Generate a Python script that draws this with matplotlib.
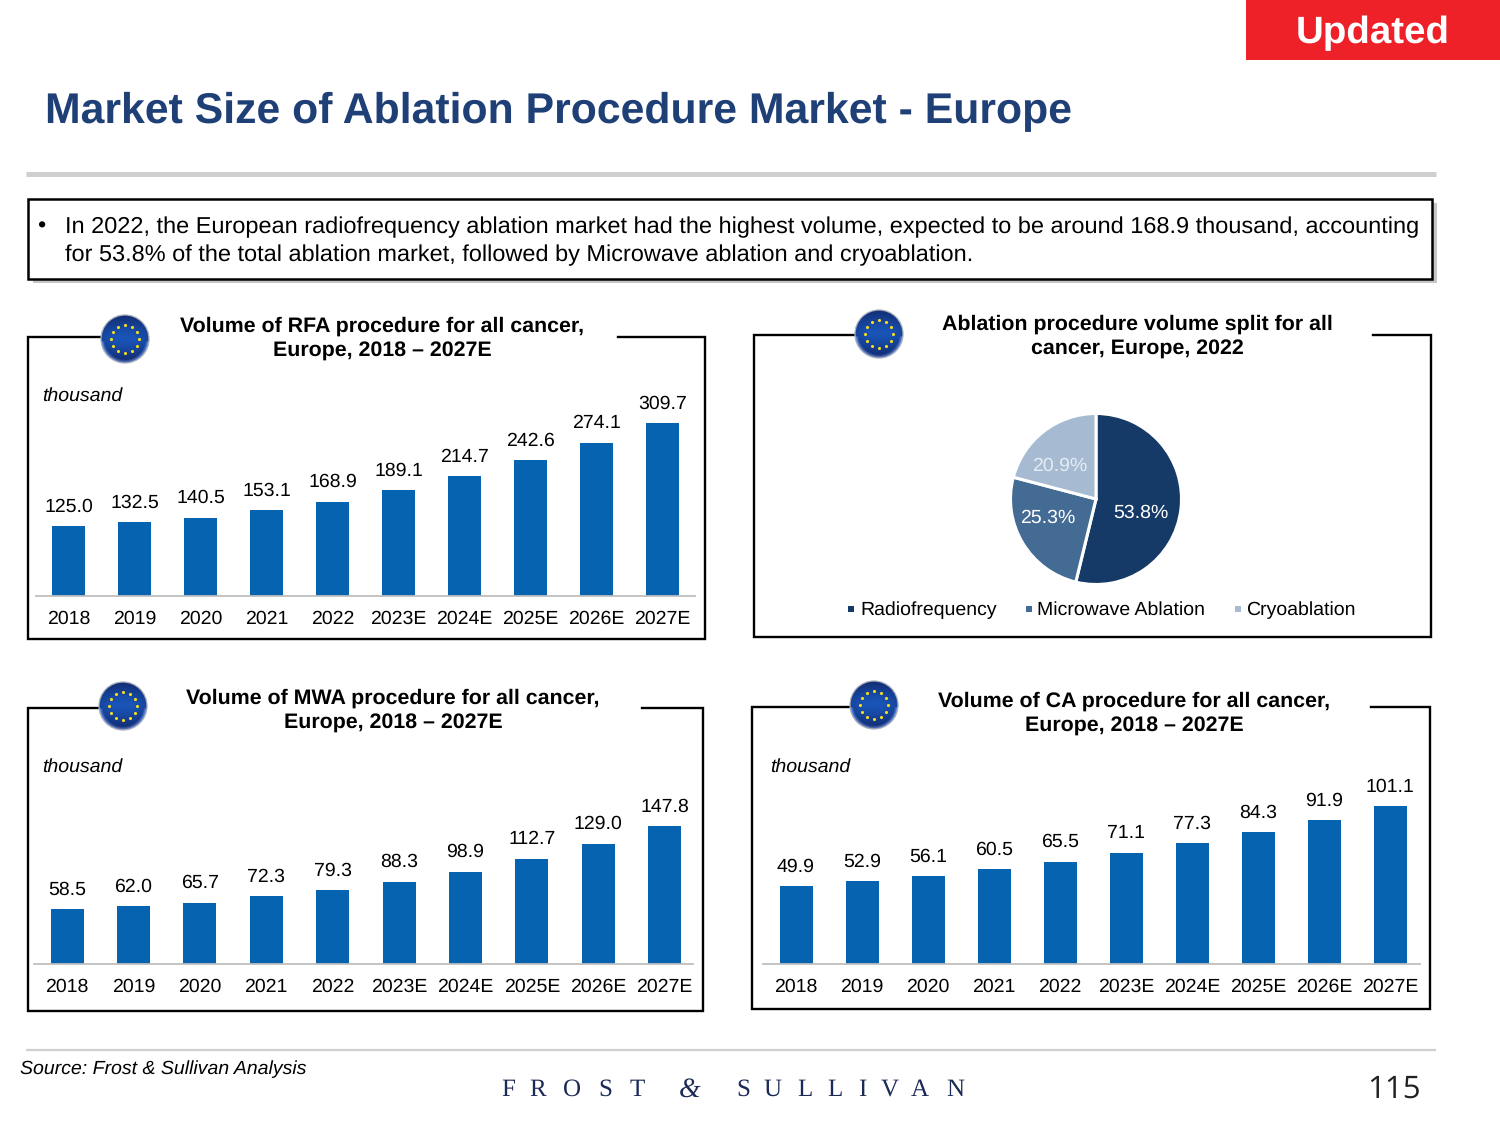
import numpy as np
import matplotlib
matplotlib.use('Agg')
import matplotlib.pyplot as plt
from matplotlib.patches import Rectangle, Circle

plt.rcParams['font.family'] = ['Liberation Sans', 'DejaVu Sans']
plt.rcParams['text.hinting'] = 'no_hinting'
plt.rcParams['text.hinting_factor'] = 8

years = ['2018', '2019', '2020', '2021', '2022', '2023E', '2024E', '2025E', '2026E', '2027E']
rfa_values = [125.0, 132.5, 140.5, 153.1, 168.9, 189.1, 214.7, 242.6, 274.1, 309.7]
mwa_values = [58.5, 62.0, 65.7, 72.3, 79.3, 88.3, 98.9, 112.7, 129.0, 147.8]
ca_values = [49.9, 52.9, 56.1, 60.5, 65.5, 71.1, 77.3, 84.3, 91.9, 101.1]
pie_labels = ['Radiofrequency', 'Microwave Ablation', 'Cryoablation']
pie_values = [53.8, 25.3, 20.9]

NAVY = '#1F3F77'
BAR = '#0563B0'
PIE_COLORS = ['#163A68', '#436B93', '#A6BBD2']

W, H = 1500, 1125
fig = plt.figure(figsize=(15, 11.25), dpi=100, facecolor='white')

# page layer, in pixels of the slide
page = fig.add_axes([0, 0, 1, 1])
page.set_xlim(0, W)
page.set_ylim(H, 0)
page.axis('off')


def px_axes(x0, y0, x1, y1):
    return fig.add_axes([x0 / W, 1 - y1 / H, (x1 - x0) / W, (y1 - y0) / H], facecolor='none')


def hline(y, x0, x1, color='black', lw=1.8):
    page.plot([x0, x1], [y, y], color=color, lw=lw, solid_capstyle='butt')


def panel(left, right, top, bottom, gap0, gap1):
    page.plot([gap0, left, left, right, right, gap1],
              [top, top, bottom, bottom, top, top],
              color='black', lw=1.7, solid_joinstyle='miter')


def globe(cx, cy, r=24):
    # dark blue ball, darker at the rim, lighter band in the middle
    yy, xx = np.mgrid[-1:1:120j, -1:1:120j]
    rr = np.sqrt(xx ** 2 + yy ** 2)
    shade = np.clip(1 - 0.9 * np.abs(yy + 0.05) ** 1.4, 0, 1) * np.clip(1.25 - 0.6 * rr, 0, 1)
    dark = np.array([0.07, 0.16, 0.42])
    mid = np.array([0.10, 0.33, 0.72])
    img = dark + (mid - dark) * shade[..., None]
    # pale rim along the bottom edge
    rim = np.clip((rr - 0.86) / 0.14, 0, 1)[..., None] * (yy[..., None] > 0.1)
    img = np.clip(img + rim * 0.35, 0, 1)
    im = page.imshow(img, extent=[cx - r, cx + r, cy + r, cy - r], zorder=3, aspect='auto')
    im.set_clip_path(Circle((cx, cy), r, transform=page.transData))
    page.add_patch(Circle((cx, cy), r, fill=False, ec='#A9AFBC', lw=0.9, zorder=4))
    ang = np.linspace(0, 2 * np.pi, 12, endpoint=False)
    page.scatter(cx + 0.6 * r * np.cos(ang), cy + 0.6 * r * np.sin(ang),
                 s=5, color='#F5DE1E', lw=0, zorder=5)


def bar_chart(values, first, step, base, top_px, x0, x1):
    ax = px_axes(x0, top_px, x1, base)
    ax.bar(range(len(values)), values, width=33 / step, color=BAR)
    ax.set_xlim((x0 - first) / step, (x1 - first) / step)
    ax.set_ylim(0, max(values))
    ax.set_xticks(range(len(values)), years, fontsize=14)
    ax.set_yticks([])
    ax.tick_params(axis='x', length=0, pad=10)
    for s in ['top', 'left', 'right']:
        ax.spines[s].set_visible(False)
    ax.spines['bottom'].set_color('#BFBFBF')
    ax.spines['bottom'].set_linewidth(1.3)
    for i, v in enumerate(values):
        ax.annotate(f'{v:.1f}', (i, v), xytext=(0, 14), textcoords='offset points',
                    ha='center', va='center', fontsize=14, annotation_clip=False)
    return ax


# header
page.add_patch(Rectangle((1246, 0), 254, 60, color='#EE2028', lw=0))
page.text(1373, 33.5, 'Updated', color='white', fontsize=27.7, fontweight='bold', ha='center', va='center')
page.text(45, 112, 'Market Size of Ablation Procedure Market - Europe', color=NAVY,
          fontsize=30.8, fontweight='bold', va='center')
hline(174, 26, 1436, color='#CFCFCF', lw=3.6)

# text box
page.add_patch(Rectangle((33, 203), 1404, 80, color='#C6C6C6', lw=0, zorder=1))
page.add_patch(Rectangle((28, 199), 1404, 80, fc='white', ec='black', lw=1.8, zorder=2))
page.text(37, 227, '•', fontsize=16.9, va='center', zorder=3)
page.text(65, 227, 'In 2022, the European radiofrequency ablation market had the highest volume, '
          'expected to be around 168.9 thousand, accounting', fontsize=16.9, va='center', zorder=3)
page.text(65, 255, 'for 53.8% of the total ablation market, followed by Microwave ablation and cryoablation.',
          fontsize=16.9, va='center', zorder=3)

# panels
panel(28, 705, 337, 639, 100, 618)
panel(754, 1431, 335, 637, 860, 1373)
panel(28, 703, 708, 1011, 100, 642)
panel(752, 1430, 707, 1009, 850, 1371)
globe(125, 339)
globe(879, 334)
globe(123, 706)
globe(874, 705)

titles = [
    (382, 326, 'Volume of RFA procedure for all cancer,', 'Europe, 2018 – 2027E'),
    (1137, 324, 'Ablation procedure volume split for all', 'cancer, Europe, 2022'),
    (393, 698, 'Volume of MWA procedure for all cancer,', 'Europe, 2018 – 2027E'),
    (1134, 701, 'Volume of CA procedure for all cancer,', 'Europe, 2018 – 2027E'),
]
for x, y, line1, line2 in titles:
    page.text(x, y, line1, fontsize=15.4, fontweight='bold', ha='center', va='center')
    page.text(x, y + 25, line2, fontsize=15.4, fontweight='bold', ha='center', va='center')

for x, y in [(42, 396), (42, 767), (770, 767)]:
    page.text(x, y, 'thousand', fontsize=14, style='italic', va='center')

# bar charts
bar_chart(rfa_values, 68.5, 66, 596, 423, 36, 695)
bar_chart(mwa_values, 67, 66.4, 964, 826, 34, 693)
bar_chart(ca_values, 796, 66, 964, 806, 763, 1420)

# pie
pie_ax = px_axes(1006, 409, 1186, 589)
wedges, _, autotexts = pie_ax.pie(
    pie_values, colors=PIE_COLORS, startangle=90, counterclock=False, radius=1,
    autopct='%.1f%%', pctdistance=0.55,
    wedgeprops=dict(edgecolor='white', linewidth=2.2),
    textprops=dict(color='white', fontsize=14))
pie_ax.set_xlim(-90 / 85.5, 90 / 85.5)
pie_ax.set_ylim(-90 / 85.5, 90 / 85.5)
# nudge the labels to where the slide has them
for t, (dx, dy) in zip(autotexts, [(-0.02, -0.1), (-0.09, 0.06), (-0.09, -0.05)]):
    px, py = t.get_position()
    t.set_position((px + dx, py + dy))
autotexts[2].set_color('#E6ECF3')

for color, label, sq_x, txt_x in zip(PIE_COLORS, pie_labels, [848, 1026, 1235], [860, 1037, 1246]):
    page.add_patch(Rectangle((sq_x, 606), 6, 6, color=color, lw=0))
    page.text(txt_x, 610, label, fontsize=14, va='center')

# footer
hline(1050, 26, 1436, color='#CFCFCF', lw=1.6)
page.text(20, 1069.5, 'Source: Frost & Sullivan Analysis', fontsize=14, style='italic', va='center')
logo = 'FROST&SULLIVAN'
logo_x = [508, 538, 572, 605, 637, 690, 743, 772, 805, 835, 862, 890, 920, 955]
for ch, x in zip(logo, logo_x):
    page.text(x, 1090, ch, family='Liberation Serif', fontsize=20 if ch == '&' else 18, color='#1B2A56',
              ha='center', va='center', style='italic' if ch == '&' else 'normal')
page.text(1394, 1090, '115', family='Open Sans', fontsize=22.5, ha='center', va='center', color='#222222')

page.set_xlim(0, W)
page.set_ylim(H, 0)
page.set_aspect('auto')
fig.savefig('out.png', dpi=100)
